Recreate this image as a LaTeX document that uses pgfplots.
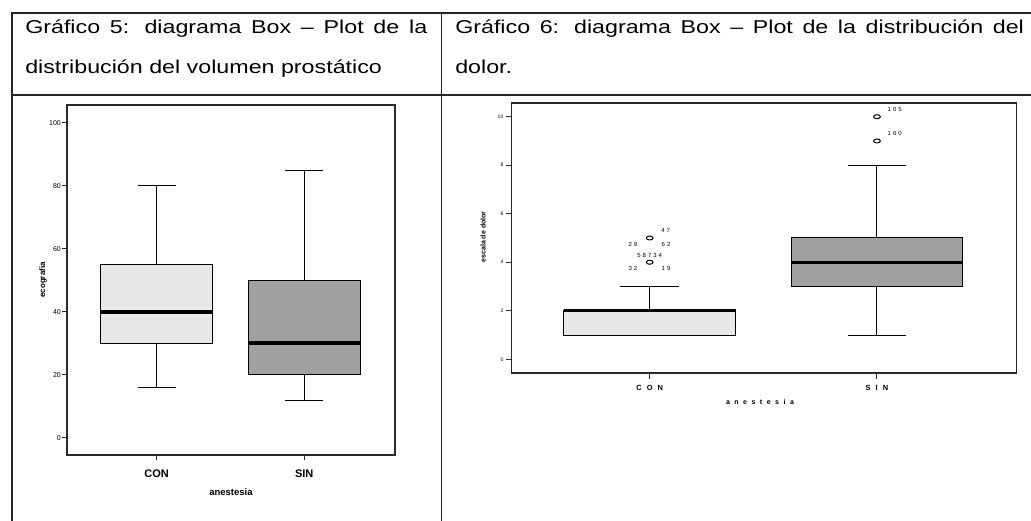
\documentclass[border=0pt]{standalone}
\usepackage{fontspec}
\setmainfont{Liberation Sans}
\usepackage{pgfplots}
\pgfplotsset{compat=1.18}
\usepgfplotslibrary{statistics}
\definecolor{conf}{HTML}{E8E8E8}
\definecolor{sinf}{HTML}{A0A0A0}
\definecolor{frm}{HTML}{2A2A2A}
\begin{document}
\begin{tikzpicture}
\useasboundingbox (0,0) rectangle (1031pt,521pt);
% table lines
\draw[line width=1.6pt, black!85] (12pt,508pt) -- (1031pt,508pt);
\draw[line width=2.2pt, black!85] (12pt,426pt) -- (1031pt,426pt);
\draw[line width=1.6pt, black!85] (12pt,508.8pt) -- (12pt,0pt);
\draw[line width=1.6pt, black!85] (441.5pt,508pt) -- (441.5pt,0pt);
% titles
\node[anchor=base west, inner sep=0pt, xscale=1.25, font=\fontsize{18.6}{20}\selectfont] at (25pt,487pt) {\makebox[321.6pt][s]{Gráfico 5: diagrama Box – Plot de la}};
\node[anchor=base west, inner sep=0pt, xscale=1.25, font=\fontsize{18.6}{20}\selectfont] at (25pt,447pt) {distribución del volumen prostático};
\node[anchor=base west, inner sep=0pt, xscale=1.25, font=\fontsize{18.6}{20}\selectfont] at (455pt,487pt) {\makebox[455pt][s]{Gráfico 6: diagrama Box – Plot de la distribución del}};
\node[anchor=base west, inner sep=0pt, xscale=1.25, font=\fontsize{18.6}{20}\selectfont] at (455pt,447pt) {dolor.};

% left chart
\begin{axis}[
  at={(67pt,66pt)}, anchor=south west, scale only axis,
  width=328pt, height=350pt,
  xmin=0.392, xmax=2.615, ymin=-5.4, ymax=105.7,
  xtick={1,2}, xticklabels={CON,SIN},
  ytick={0,20,40,60,80,100},
  tick align=outside, xtick pos=bottom, ytick pos=left,
  major tick length=5pt,
  axis line style={line width=1.2pt, frm},
  tick style={line width=1pt, frm},
  /pgf/number format/assume math mode=true,
  yticklabel style={font=\fontsize{7}{8}\selectfont, inner sep=1pt},
  xticklabel style={font=\fontsize{11}{12}\selectfont\bfseries, anchor=center, yshift=-14pt},
  xlabel={anestesia}, ylabel={ecografia},
  every axis x label/.style={at={(axis description cs:0.5,-0.1057)}, anchor=center, font=\fontsize{9.5}{10}\selectfont\bfseries},
  every axis y label/.style={at={(axis description cs:-0.073,0.5)}, anchor=center, rotate=90, font=\fontsize{8}{9}\selectfont\bfseries},
  boxplot/draw direction=y,
  boxplot/every median/.style={line width=4pt},
]
\addplot[draw=black, line width=1pt, fill=conf,
  boxplot prepared={draw position=1, lower whisker=16, lower quartile=30, median=40, upper quartile=55, upper whisker=80, box extend=0.76, whisker extend=0.26}]
  coordinates {};
\addplot[draw=black, line width=1pt, fill=sinf,
  boxplot prepared={draw position=2, lower whisker=12, lower quartile=20, median=30, upper quartile=50, upper whisker=85, box extend=0.76, whisker extend=0.26}]
  coordinates {};
\end{axis}

% right chart
\begin{axis}[
  at={(511.5pt,148pt)}, anchor=south west, scale only axis,
  width=505pt, height=270pt,
  xmin=0.392, xmax=2.614, ymin=-0.565, ymax=10.565,
  xtick={1,2}, xticklabels={C\hspace{5pt}O\hspace{5pt}N, S\hspace{5pt}I\hspace{5pt}N},
  ytick={0,2,4,6,8,10},
  tick align=outside, xtick pos=bottom, ytick pos=left,
  major tick length=6pt,
  axis line style={line width=1.2pt, frm},
  tick style={line width=1pt, frm},
  /pgf/number format/assume math mode=true,
  yticklabel style={font=\fontsize{5}{6}\selectfont, inner sep=2pt},
  xticklabel style={font=\fontsize{7.5}{8}\selectfont\bfseries, anchor=center, yshift=-9pt},
  xlabel={a\hspace{4.5pt}n\hspace{4.5pt}e\hspace{4.5pt}s\hspace{4.5pt}t\hspace{4.5pt}e\hspace{4.5pt}s\hspace{4.5pt}i\hspace{4.5pt}a},
  ylabel={escala de dolor},
  every axis x label/.style={at={(axis description cs:0.492,-0.107)}, anchor=center, font=\fontsize{7}{8}\selectfont\bfseries},
  every axis y label/.style={at={(axis description cs:-0.0564,0.504)}, anchor=center, rotate=90, font=\fontsize{7}{8}\selectfont\bfseries},
  boxplot/draw direction=y,
  boxplot/every median/.style={line width=3pt},
]
\addplot[draw=black, line width=1pt, fill=conf,
  boxplot prepared={draw position=1, lower whisker=1, lower quartile=1, median=2, upper quartile=2, upper whisker=3, box extend=0.756, whisker extend=0.257}]
  coordinates {};
\addplot[draw=black, line width=1pt, fill=sinf,
  boxplot prepared={draw position=2, lower whisker=1, lower quartile=3, median=4, upper quartile=5, upper whisker=8, box extend=0.756, whisker extend=0.257}]
  coordinates {};
\addplot[only marks, mark=o, mark size=2pt, mark options={xscale=1.7, line width=1pt, draw=black}]
  coordinates {(1,4) (1,5) (2,9) (2,10)};
\begin{scope}[every node/.style={font=\fontsize{6}{7}\selectfont, inner sep=0pt}]
\node at (axis cs:1.07,5.33) {4\hspace{2pt}7};
\node at (axis cs:0.926,4.75) {2\hspace{2pt}9};
\node at (axis cs:1.072,4.75) {6\hspace{2pt}2};
\node at (axis cs:1.0,4.27) {5\hspace{2pt}8\hspace{2pt}7\hspace{2pt}3\hspace{2pt}4};
\node at (axis cs:0.926,3.76) {3\hspace{2pt}2};
\node at (axis cs:1.072,3.76) {1\hspace{2pt}9};
\node at (axis cs:2.078,10.32) {1\hspace{2pt}0\hspace{2pt}5};
\node at (axis cs:2.078,9.32) {1\hspace{2pt}6\hspace{2pt}0};
\end{scope}
\end{axis}
\end{tikzpicture}
\end{document}
